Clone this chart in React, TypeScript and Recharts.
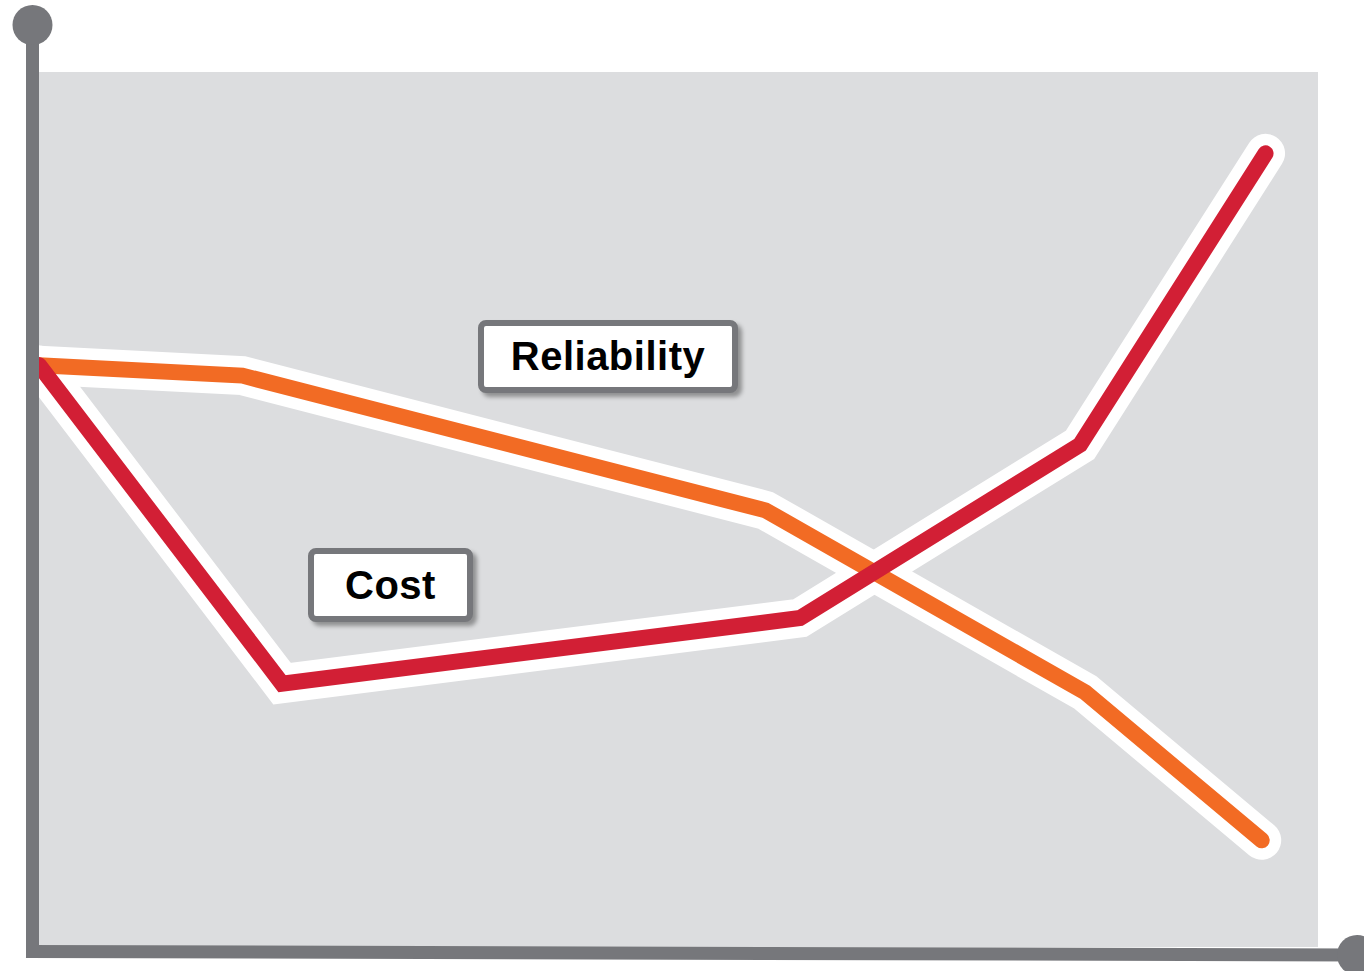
import React from "react";
import {
  LineChart,
  Line,
  XAxis,
  YAxis,
  CartesianGrid,
  Customized,
} from "recharts";

// values, x and y on a 0-100 scale
const reliabilityX = [0, 15.9, 56.8, 81.8, 95.6];
const reliabilityY = [66.5, 65.3, 49.9, 29.1, 12.2];
const costX = [0, 19.0, 59.5, 81.4, 95.9];
const costY = [66.5, 30.1, 37.6, 57.4, 90.7];

const seriesNames = ["Reliability", "Cost"];

const W = 1364;
const H = 971;
const MARGIN = { top: 72, left: 39, right: 46, bottom: 24 };

const AXIS = "#76777B";
const BG = "#DCDDDF";
const ORANGE = "#F26B24";
const RED = "#D21F35";

const reliabilityData = reliabilityX.map((x, i) => ({ x, y: reliabilityY[i] }));
const costData = costX.map((x, i) => ({ x, y: costY[i] }));

// the two axis arrows with the round knobs
const AxisDecor = () => (
  <g>
    <line x1={32.5} y1={25} x2={32.5} y2={958} stroke={AXIS} strokeWidth={13} />
    <circle cx={32.5} cy={25} r={20} fill={AXIS} />
    <line x1={26} y1={951.5} x2={1357} y2={955} stroke={AXIS} strokeWidth={13} />
    <circle cx={1357} cy={955} r={20} fill={AXIS} />
  </g>
);

const labelBox = (left: number, top: number, width: number, height: number): React.CSSProperties => ({
  position: "absolute",
  left,
  top,
  width,
  height,
  boxSizing: "border-box",
  border: `6px solid ${AXIS}`,
  borderRadius: 8,
  background: "#fff",
  boxShadow: "4px 4px 4px rgba(0,0,0,0.35)",
  display: "flex",
  alignItems: "center",
  justifyContent: "center",
  fontFamily: "'Liberation Sans', Arial, sans-serif",
  fontWeight: 700,
  fontSize: 40,
  letterSpacing: 0.5,
  color: "#000",
});

const App: React.FC = () => {
  return (
    <div
      style={{
        position: "absolute",
        left: 0,
        top: 0,
        width: W,
        height: H,
        background: "#fff",
        overflow: "hidden",
      }}
    >
      <LineChart width={W} height={H} margin={MARGIN}>
        <CartesianGrid fill={BG} stroke="none" horizontal={false} vertical={false} />
        <XAxis type="number" dataKey="x" domain={[0, 100]} allowDataOverflow hide />
        <YAxis type="number" dataKey="y" domain={[0, 100]} allowDataOverflow hide />
        {/* white outlines first, then the coloured lines on top */}
        <Line
          data={reliabilityData}
          dataKey="y"
          type="linear"
          stroke="#fff"
          strokeWidth={39}
          strokeLinecap="round"
          strokeLinejoin="miter"
          dot={false}
          activeDot={false}
          isAnimationActive={false}
        />
        <Line
          data={costData}
          dataKey="y"
          type="linear"
          stroke="#fff"
          strokeWidth={39}
          strokeLinecap="round"
          strokeLinejoin="miter"
          dot={false}
          activeDot={false}
          isAnimationActive={false}
        />
        <Line
          data={reliabilityData}
          dataKey="y"
          name={seriesNames[0]}
          type="linear"
          stroke={ORANGE}
          strokeWidth={16}
          strokeLinecap="round"
          strokeLinejoin="miter"
          dot={false}
          activeDot={false}
          isAnimationActive={false}
        />
        <Line
          data={costData}
          dataKey="y"
          name={seriesNames[1]}
          type="linear"
          stroke={RED}
          strokeWidth={16}
          strokeLinecap="round"
          strokeLinejoin="miter"
          dot={false}
          activeDot={false}
          isAnimationActive={false}
        />
        <Customized component={AxisDecor} />
      </LineChart>
      <div style={labelBox(478, 320, 260, 73)}>{seriesNames[0]}</div>
      <div style={labelBox(308, 548, 165, 74)}>{seriesNames[1]}</div>
    </div>
  );
};

export default App;
